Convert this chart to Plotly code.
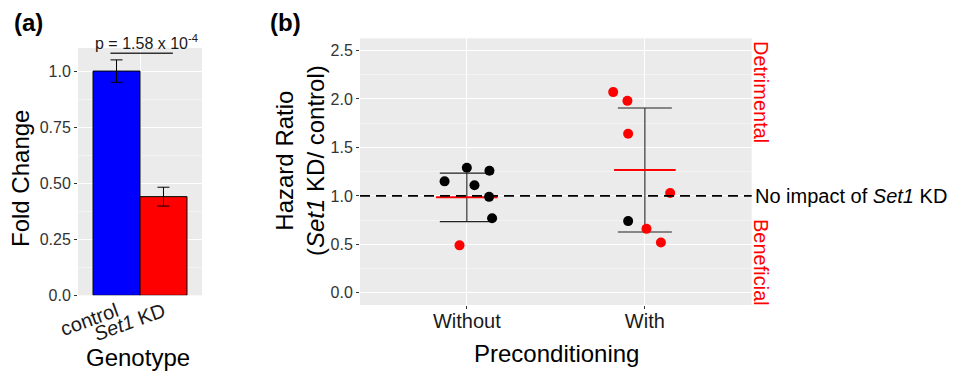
import plotly.graph_objects as go

# ---------------- data: panel (a) ----------------
genotypes = ["control", "<i>Set1</i> KD"]
genotype_pos = [1, 2]
fold_change = [1.0, 0.44]
fold_err = [0.05, 0.042]
bar_colors = ["#0000FF", "#FF0000"]
a_yticks = [0.0, 0.25, 0.5, 0.75, 1.0]
a_yticklabels = ["0.0", "0.25", "0.50", "0.75", "1.0"]
p_label = "p = 1.58 x 10<sup>-4</sup>"
p_bracket = [0.87, 2.2]
p_bracket_y = 1.08

# ---------------- data: panel (b) ----------------
groups = ["Without", "With"]
group_pos = [1, 2]
hr_without = [1.15, 1.29, 1.11, 1.26, 0.99, 0.77, 0.49]
jit_without = [-0.125, 0.0, 0.043, 0.127, 0.125, 0.142, -0.041]
col_without = ["black", "black", "black", "black", "black", "black", "red"]
hr_with = [2.07, 1.98, 1.64, 1.03, 0.74, 0.66, 0.52]
jit_with = [-0.178, -0.098, -0.094, 0.142, -0.094, 0.009, 0.09]
col_with = ["red", "red", "red", "red", "black", "red", "red"]
hr_mean = [0.985, 1.267]
hr_sd = [0.25, 0.64]
b_yticks = [0.0, 0.5, 1.0, 1.5, 2.0, 2.5]
no_impact_level = 1.0

FONT = "Liberation Sans, Arial, Helvetica, sans-serif"
W, H = 955, 374


def px(x):
    return x / W


def py(y):
    return 1 - y / H


fig = go.Figure()

# panel (a) bars
fig.add_trace(go.Bar(
    x=genotype_pos, y=fold_change, width=1.0,
    marker=dict(color=bar_colors, line=dict(color="black", width=1)),
    error_y=dict(type="data", array=fold_err, width=6, thickness=1, color="black"),
    xaxis="x", yaxis="y", showlegend=False,
))

# panel (b) error bars (mean +/- sd)
fig.add_trace(go.Scatter(
    x=group_pos, y=hr_mean, mode="markers",
    marker=dict(size=1, opacity=0),
    error_y=dict(type="data", array=hr_sd, width=27, thickness=1.1, color="#222"),
    xaxis="x2", yaxis="y2", showlegend=False, hoverinfo="skip",
))
# mean line
fig.add_trace(go.Scatter(
    x=group_pos, y=hr_mean, mode="markers",
    marker=dict(symbol="line-ew", size=44, line=dict(color="#FF0000", width=2)),
    xaxis="x2", yaxis="y2", showlegend=False,
))
# points
xs = [group_pos[0] + j for j in jit_without] + [group_pos[1] + j for j in jit_with]
ys = hr_without + hr_with
cs = col_without + col_with
fig.add_trace(go.Scatter(
    x=xs, y=ys, mode="markers",
    marker=dict(size=10, color=["#FF0000" if c == "red" else "#000000" for c in cs]),
    xaxis="x2", yaxis="y2", showlegend=False,
))

tickfont = dict(family=FONT, size=16, color="#333333")
catfont = dict(family=FONT, size=20, color="#1a1a1a")


def ann(text, x, y, size=24, color="black", angle=0, xanchor="center", align="center"):
    return dict(text=text, x=px(x), y=py(y), xref="paper", yref="paper",
                xanchor=xanchor, yanchor="middle", textangle=angle, align=align,
                showarrow=False, font=dict(size=size, family=FONT, color=color))


fig.update_layout(
    width=W, height=H,
    autosize=False,
    margin=dict(l=0, r=0, t=0, b=0, pad=0),
    paper_bgcolor="white",
    plot_bgcolor="#EBEBEB",
    font=dict(family=FONT, color="black"),
    xaxis=dict(
        domain=[px(78), px(202)], range=[0.18, 2.82], anchor="y", automargin=False,
        tickmode="array", tickvals=genotype_pos, ticktext=genotypes,
        tickangle=-20, tickfont=catfont, showgrid=False, zeroline=False,
        ticks="", showline=False,
        minor=dict(tickvals=[1.5], showgrid=True, gridcolor="white", gridwidth=1.1, ticks=""),
    ),
    yaxis=dict(
        domain=[py(295.3), py(48)], range=[0, 1.103], anchor="x", automargin=False,
        tickmode="array", tickvals=a_yticks, ticktext=a_yticklabels,
        tickfont=tickfont, ticks="outside", ticklen=3, tickcolor="#333",
        showgrid=True, gridcolor="white", gridwidth=1.1, zeroline=False,
        minor=dict(tickvals=[0.125, 0.375, 0.625, 0.875], showgrid=True,
                   gridcolor="#F4F4F4", gridwidth=0.6, ticks=""),
    ),
    xaxis2=dict(
        domain=[px(360), px(751.7)], range=[0.4, 2.6], anchor="y2", automargin=False,
        tickmode="array", tickvals=group_pos, ticktext=groups,
        tickfont=catfont, ticks="outside", ticklen=3, tickcolor="#333",
        ticklabelstandoff=-5,
        showgrid=True, gridcolor="white", gridwidth=1.1, zeroline=False,
    ),
    yaxis2=dict(
        domain=[py(305), py(38.3)], range=[-0.125, 2.625], anchor="x2", automargin=False,
        tickmode="array", tickvals=b_yticks, ticktext=[f"{v:.1f}" for v in b_yticks],
        tickfont=tickfont, ticks="outside", ticklen=3, tickcolor="#333",
        showgrid=True, gridcolor="white", gridwidth=1.1, zeroline=False,
        minor=dict(dtick=0.25, tick0=0, showgrid=True, gridcolor="#F4F4F4",
                   gridwidth=0.6, ticks=""),
    ),
    shapes=[
        dict(type="line", xref="x", yref="y", x0=p_bracket[0], x1=p_bracket[1],
             y0=p_bracket_y, y1=p_bracket_y, line=dict(color="#333", width=1.5)),
        dict(type="line", xref="x2 domain", yref="y2", x0=0, x1=1,
             y0=no_impact_level, y1=no_impact_level,
             line=dict(color="black", width=1.6, dash="10px,6px")),
    ],
    annotations=[
        ann("<b>(a)</b>", 28, 22),
        ann("<b>(b)</b>", 285, 22),
        ann(p_label, 146, 42, size=16, color="#1a1a1a"),
        ann("Fold Change", 20, 179, angle=-90),
        ann("Genotype", 138, 357),
        ann("Hazard Ratio<br>(<i>Set1</i> KD/ control)", 300, 161, angle=-90),
        ann("Preconditioning", 556, 353),
        ann("No impact of <i>Set1</i> KD", 753, 196, size=20, xanchor="left"),
        ann("Detrimental", 761, 92, size=20, color="#FF0000", angle=90),
        ann("Beneficial", 761, 262, size=20, color="#FF0000", angle=90),
    ],
)

fig.write_html(
    "out.html",
    config={"displayModeBar": False},
    post_script="document.body.style.margin='0px';document.body.style.overflow='hidden';",
)
